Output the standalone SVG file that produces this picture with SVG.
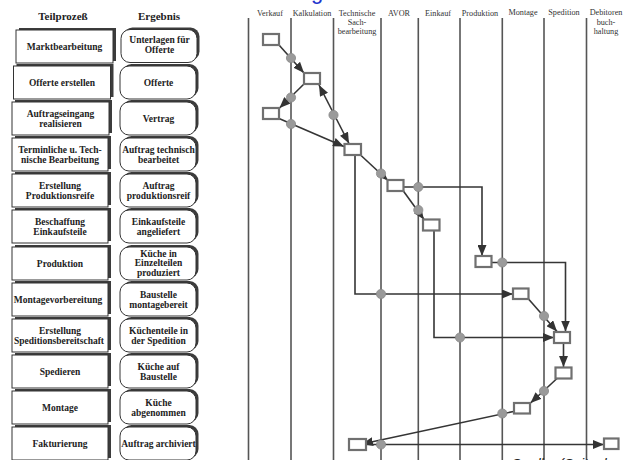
<svg xmlns="http://www.w3.org/2000/svg" width="626" height="460" viewBox="0 0 626 460">
  <style>
    .hd { font-family: "Liberation Serif", "Times New Roman", serif; font-weight: bold; font-size: 11px; fill: #222; text-anchor: middle; }
    .bt { font-family: "Liberation Serif", "Times New Roman", serif; font-weight: bold; font-size: 9.5px; fill: #222; text-anchor: middle; }
    .ln { font-family: "Liberation Serif", "Times New Roman", serif; font-size: 8.2px; fill: #333; text-anchor: middle; }
    .shadow { fill: #3c3c3c; }
    .face { fill: #fff; stroke: #333; stroke-width: 1; }
    .lane { stroke: #555; stroke-width: 1.6; fill: none; }
    .step { fill: #fff; stroke: #707070; stroke-width: 2.2; }
    .join { fill: #9a9a9a; stroke: #8a8a8a; stroke-width: 0.8; }
    .flow { stroke: #353535; stroke-width: 1.6; fill: none; }
    .arr { marker-end: url(#head); }
  </style>
  <defs>
    <marker id="head" markerUnits="userSpaceOnUse" markerWidth="12" markerHeight="9" refX="11" refY="4.5" orient="auto-start-reverse">
      <path d="M0,0 L11,4.5 L0,9 Z" fill="#333"/>
    </marker>
  </defs>

  <rect width="626" height="460" fill="#fff"/>

  <!-- cut-off heading -->
  <text x="311" y="-1" font-family="Liberation Sans, Arial, sans-serif" font-size="22" fill="#2233cc">g</text>

  <!-- column headings -->
  <text class="hd" x="63" y="20">Teilprozeß</text>
  <text class="hd" x="159" y="20">Ergebnis</text>

  <!-- sub-process boxes -->
  <g id="tp1"><rect class="shadow" x="19" y="28" width="97" height="33"/><rect class="face" x="16" y="30" width="97" height="33"/><text class="bt" x="64.5" y="49.8">Marktbearbeitung</text></g>
  <g id="tp2"><rect class="shadow" x="16.5" y="64" width="97" height="33"/><rect class="face" x="13.5" y="66" width="97" height="33"/><text class="bt" x="62" y="85.8">Offerte erstellen</text></g>
  <g id="tp3"><rect class="shadow" x="15" y="100" width="97" height="33"/><rect class="face" x="12" y="102" width="97" height="33"/><text class="bt" x="60.5" y="117">Auftragseingang</text><text class="bt" x="60.5" y="126.5">realisieren</text></g>
  <g id="tp4"><rect class="shadow" x="15" y="136" width="96" height="33"/><rect class="face" x="12" y="138" width="96" height="33"/><text class="bt" x="60" y="153">Terminliche u. Tech-</text><text class="bt" x="60" y="162.5">nische Bearbeitung</text></g>
  <g id="tp5"><rect class="shadow" x="15" y="172" width="96" height="33"/><rect class="face" x="12" y="174" width="96" height="33"/><text class="bt" x="60" y="189">Erstellung</text><text class="bt" x="60" y="198.5">Produktionsreife</text></g>
  <g id="tp6"><rect class="shadow" x="15" y="208" width="96" height="33"/><rect class="face" x="12" y="210" width="96" height="33"/><text class="bt" x="60" y="225">Beschaffung</text><text class="bt" x="60" y="234.5">Einkaufsteile</text></g>
  <g id="tp7"><rect class="shadow" x="15" y="245" width="96" height="33"/><rect class="face" x="12" y="247" width="96" height="33"/><text class="bt" x="60" y="266.8">Produktion</text></g>
  <g id="tp8"><rect class="shadow" x="15" y="281" width="96" height="33"/><rect class="face" x="12" y="283" width="96" height="33"/><text class="bt" x="58" y="302.8">Montagevorbereitung</text></g>
  <g id="tp9"><rect class="shadow" x="15" y="317" width="96" height="33"/><rect class="face" x="12" y="319" width="96" height="33"/><text class="bt" x="60" y="334">Erstellung</text><text class="bt" x="59" y="343.5">Speditionsbereitschaft</text></g>
  <g id="tp10"><rect class="shadow" x="15" y="353" width="96" height="33"/><rect class="face" x="12" y="355" width="96" height="33"/><text class="bt" x="60" y="374.8">Spedieren</text></g>
  <g id="tp11"><rect class="shadow" x="15" y="389" width="96" height="33"/><rect class="face" x="12" y="391" width="96" height="33"/><text class="bt" x="60" y="410.8">Montage</text></g>
  <g id="tp12"><rect class="shadow" x="15" y="425" width="96" height="33"/><rect class="face" x="12" y="427" width="96" height="33"/><text class="bt" x="60" y="446.8">Fakturierung</text></g>

  <!-- result boxes -->
  <g id="er1"><rect class="shadow" x="123.5" y="27.5" width="76" height="33" rx="9"/><rect class="face" x="121" y="29.5" width="76" height="33" rx="9"/><text class="bt" x="159.5" y="43">Unterlagen für</text><text class="bt" x="159.5" y="52.5">Offerte</text></g>
  <g id="er2"><rect class="shadow" x="122.5" y="64" width="76" height="33" rx="9"/><rect class="face" x="120" y="66" width="76" height="33" rx="9"/><text class="bt" x="158.5" y="85.8">Offerte</text></g>
  <g id="er3"><rect class="shadow" x="122.5" y="100" width="76" height="33" rx="9"/><rect class="face" x="120" y="102" width="76" height="33" rx="9"/><text class="bt" x="158.5" y="121.8">Vertrag</text></g>
  <g id="er4"><rect class="shadow" x="122.5" y="136" width="76" height="33" rx="9"/><rect class="face" x="120" y="138" width="76" height="33" rx="9"/><text class="bt" x="158.5" y="153">Auftrag technisch</text><text class="bt" x="158.5" y="162.5">bearbeitet</text></g>
  <g id="er5"><rect class="shadow" x="122.5" y="172" width="76" height="33" rx="9"/><rect class="face" x="120" y="174" width="76" height="33" rx="9"/><text class="bt" x="158.5" y="189">Auftrag</text><text class="bt" x="158.5" y="198.5">produktionsreif</text></g>
  <g id="er6"><rect class="shadow" x="122.5" y="208" width="76" height="33" rx="9"/><rect class="face" x="120" y="210" width="76" height="33" rx="9"/><text class="bt" x="158.5" y="225">Einkaufsteile</text><text class="bt" x="158.5" y="234.5">angeliefert</text></g>
  <g id="er7"><rect class="shadow" x="122.5" y="245" width="76" height="33" rx="9"/><rect class="face" x="120" y="247" width="76" height="33" rx="9"/><text class="bt" x="158.5" y="256.5">Küche in</text><text class="bt" x="158.5" y="266">Einzelteilen</text><text class="bt" x="158.5" y="275.5">produziert</text></g>
  <g id="er8"><rect class="shadow" x="122.5" y="281" width="76" height="33" rx="9"/><rect class="face" x="120" y="283" width="76" height="33" rx="9"/><text class="bt" x="158.5" y="298">Baustelle</text><text class="bt" x="158.5" y="307.5">montagebereit</text></g>
  <g id="er9"><rect class="shadow" x="122.5" y="317" width="76" height="33" rx="9"/><rect class="face" x="120" y="319" width="76" height="33" rx="9"/><text class="bt" x="158.5" y="334">Küchenteile in</text><text class="bt" x="158.5" y="343.5">der Spedition</text></g>
  <g id="er10"><rect class="shadow" x="122.5" y="353" width="76" height="33" rx="9"/><rect class="face" x="120" y="355" width="76" height="33" rx="9"/><text class="bt" x="158.5" y="370">Küche auf</text><text class="bt" x="158.5" y="379.5">Baustelle</text></g>
  <g id="er11"><rect class="shadow" x="122.5" y="389" width="76" height="33" rx="9"/><rect class="face" x="120" y="391" width="76" height="33" rx="9"/><text class="bt" x="158.5" y="406">Küche</text><text class="bt" x="158.5" y="415.5">abgenommen</text></g>
  <g id="er12"><rect class="shadow" x="122.5" y="425" width="76" height="33" rx="9"/><rect class="face" x="120" y="427" width="76" height="33" rx="9"/><text class="bt" x="158.5" y="446.8">Auftrag archiviert</text></g>

  <!-- swimlane headings -->
  <g id="lane-heads">
    <text class="ln" x="270" y="15.7">Verkauf</text>
    <text class="ln" x="312" y="15.7">Kalkulation</text>
    <text class="ln" x="357" y="15.7">Technische</text>
    <text class="ln" x="357" y="25">Sach-</text>
    <text class="ln" x="357" y="34.3">bearbeitung</text>
    <text class="ln" x="399" y="15.7">AVOR</text>
    <text class="ln" x="438" y="15.7">Einkauf</text>
    <text class="ln" x="480" y="15.7">Produktion</text>
    <text class="ln" x="523" y="15.2">Montage</text>
    <text class="ln" x="564" y="15.2">Spedition</text>
    <text class="ln" x="606" y="15.2">Debitoren</text>
    <text class="ln" x="606" y="24.5">buch-</text>
    <text class="ln" x="606" y="33.8">haltung</text>
  </g>

  <!-- swimlane separators -->
  <g id="lanes">
    <line class="lane" x1="248.5" y1="18" x2="248.5" y2="460"/>
    <line class="lane" x1="291" y1="18" x2="291" y2="460"/>
    <line class="lane" x1="333.5" y1="18" x2="333.5" y2="460"/>
    <line class="lane" x1="381" y1="18" x2="381" y2="460"/>
    <line class="lane" x1="418.3" y1="18" x2="418.3" y2="460"/>
    <line class="lane" x1="460" y1="18" x2="460" y2="460"/>
    <line class="lane" x1="502.3" y1="18" x2="502.3" y2="460"/>
    <line class="lane" x1="544" y1="18" x2="544" y2="460"/>
    <line class="lane" x1="586.5" y1="18" x2="586.5" y2="460"/>
  </g>

  <!-- process flow -->
  <g id="connectors">
    <path class="flow arr" d="M279,45 L304,73"/>
    <path class="flow arr" d="M304,84 L279.5,108"/>
    <path class="flow arr" d="M279,118.5 L344,146.5"/>
    <path class="flow arr" d="M319,85 L349,143.5" marker-start="url(#head)"/>
    <path class="flow arr" d="M355,155 L355,294 L513,294"/>
    <path class="flow arr" d="M360.5,155 L388,180.5"/>
    <path class="flow arr" d="M403,187 L482,187 L482,256"/>
    <path class="flow arr" d="M403,190.5 L424,219.5"/>
    <path class="flow arr" d="M434,230 L434,337.5 L554,337.5"/>
    <path class="flow arr" d="M491.5,262.5 L565.5,262.5 L565.5,331.5"/>
    <path class="flow arr" d="M528.5,299 L557,331.5"/>
    <path class="flow arr" d="M563.5,343 L563.5,367"/>
    <path class="flow arr" d="M557,378.5 L530.5,403"/>
    <path class="flow arr" d="M513.5,411.5 L362,444"/>
    <path class="flow arr" d="M366,444.5 L604,444.5"/>
  </g>

  <!-- connection points -->
  <g id="joins">
    <circle class="join" cx="291" cy="58" r="4.6"/>
    <circle class="join" cx="291" cy="97.5" r="4.6"/>
    <circle class="join" cx="291" cy="124" r="4.6"/>
    <circle class="join" cx="333.5" cy="115" r="4.6"/>
    <circle class="join" cx="381" cy="173.5" r="4.6"/>
    <circle class="join" cx="418.3" cy="187" r="4.6"/>
    <circle class="join" cx="418.3" cy="210" r="4.6"/>
    <circle class="join" cx="502.3" cy="262.5" r="4.6"/>
    <circle class="join" cx="381" cy="294" r="4.6"/>
    <circle class="join" cx="544" cy="316" r="4.6"/>
    <circle class="join" cx="460" cy="337.5" r="4.6"/>
    <circle class="join" cx="544" cy="391" r="4.6"/>
    <circle class="join" cx="502.3" cy="413.5" r="4.6"/>
    <circle class="join" cx="381" cy="444.5" r="4.6"/>
  </g>

  <!-- process steps -->
  <g id="steps">
    <rect id="s-verkauf1" class="step" x="263" y="34" width="16" height="11"/>
    <rect id="s-kalk1" class="step" x="304" y="73" width="16" height="11"/>
    <rect id="s-verkauf2" class="step" x="263" y="108" width="16" height="11"/>
    <rect id="s-tech" class="step" x="344.5" y="144" width="16.5" height="11"/>
    <rect id="s-avor" class="step" x="387.5" y="180" width="16" height="11"/>
    <rect id="s-einkauf" class="step" x="423" y="219.5" width="16.5" height="11"/>
    <rect id="s-prod" class="step" x="475.5" y="256" width="16" height="11"/>
    <rect id="s-mont1" class="step" x="513" y="288.5" width="15.5" height="10.5"/>
    <rect id="s-sped1" class="step" x="554" y="332" width="16" height="11"/>
    <rect id="s-sped2" class="step" x="555.5" y="367.5" width="16" height="11"/>
    <rect id="s-mont2" class="step" x="514" y="403" width="16" height="10.5"/>
    <rect id="s-tech2" class="step" x="349" y="439" width="17" height="11"/>
    <rect id="s-debi" class="step" x="604" y="438.5" width="14.5" height="10.5"/>
  </g>

  <!-- source line, cut at the lower edge -->
  <text x="511" y="468.5" font-family="Liberation Sans, Arial, sans-serif" font-size="14" font-style="italic" fill="#222">Quelle: (Seite: l</text>
</svg>
